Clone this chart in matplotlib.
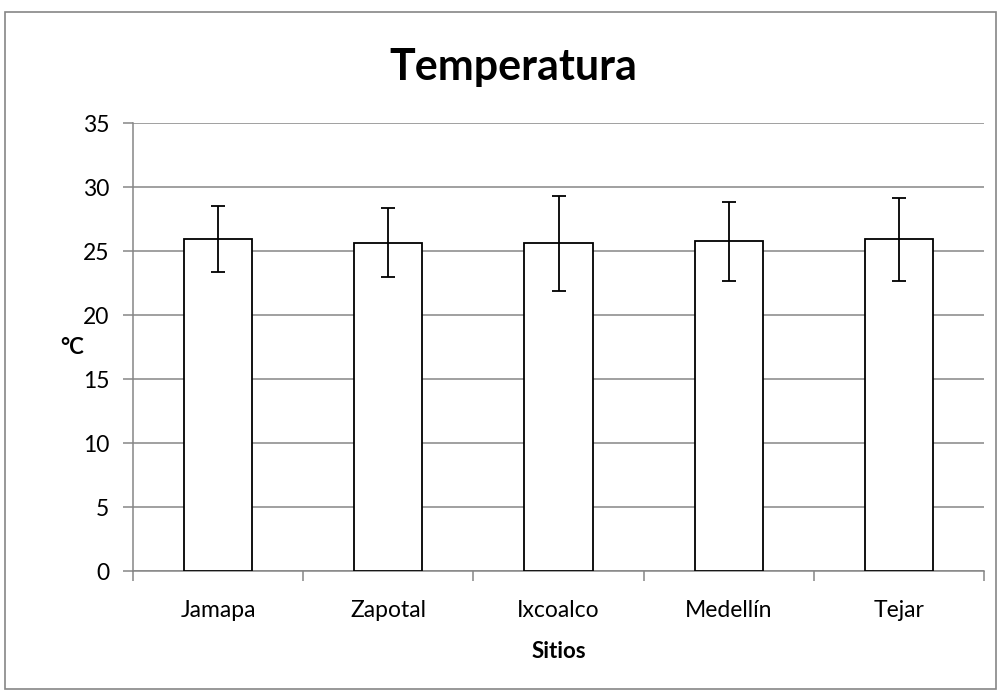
import matplotlib
matplotlib.use("Agg")
import matplotlib.pyplot as plt
from matplotlib.patches import Rectangle

sitios = ["Jamapa", "Zapotal", "Ixcoalco", "Medellín", "Tejar"]
temperatura = [25.95, 25.65, 25.6, 25.75, 25.9]
error = [2.6, 2.7, 3.7, 3.1, 3.25]
yticks = [0, 5, 10, 15, 20, 25, 30, 35]

plt.rcParams['font.family'] = ['Lato', 'DejaVu Sans']

fig = plt.figure(figsize=(10.02, 6.9), dpi=100)
fig.patches.append(Rectangle((5/1002, 1/690), 991/1002, 677/690, transform=fig.transFigure,
                             fill=False, edgecolor='#868686', linewidth=1.2))
ax = fig.add_axes([133/1002, 1-571/690, 851/1002, 448/690])

x = list(range(len(sitios)))
ax.bar(x, temperatura, width=0.4, color='white', edgecolor='black', linewidth=1.3, zorder=3,
       yerr=error, error_kw=dict(ecolor='black', elinewidth=1.3, capsize=5, capthick=1.3, zorder=4))

ax.set_xlim(-0.5, len(sitios)-0.5)
ax.set_ylim(0, 35)
ax.set_yticks(yticks)
ax.set_yticklabels([str(v) for v in yticks], fontsize=16.5)
ax.yaxis.grid(True, color='#868686', linewidth=1.1, zorder=0)
ax.set_axisbelow(True)
ax.set_xticks(x)
ax.set_xticklabels(sitios, fontsize=16.5)
ax.set_xticks([i - 0.5 for i in range(len(sitios)+1)], minor=True)
ax.tick_params(axis='x', which='major', length=0, pad=21)
ax.tick_params(axis='x', which='minor', length=7, color='#868686', width=1.1)
ax.tick_params(axis='y', length=7, color='#868686', width=1.1, pad=10)
for s in ['top', 'right']:
    ax.spines[s].set_visible(False)
for s in ['left', 'bottom']:
    ax.spines[s].set_color('#868686')
    ax.spines[s].set_linewidth(1.1)

fig.text(513/1002, 1-67/690, "Temperatura", fontsize=31, fontweight='bold', ha='center', va='center')
ax.set_xlabel("Sitios", fontsize=16, fontweight='bold', labelpad=14)
ax.set_ylabel("°C", fontsize=16, fontweight='bold', rotation=0, labelpad=8, va='center', ha='center')

fig.savefig("out.png", dpi=100)
